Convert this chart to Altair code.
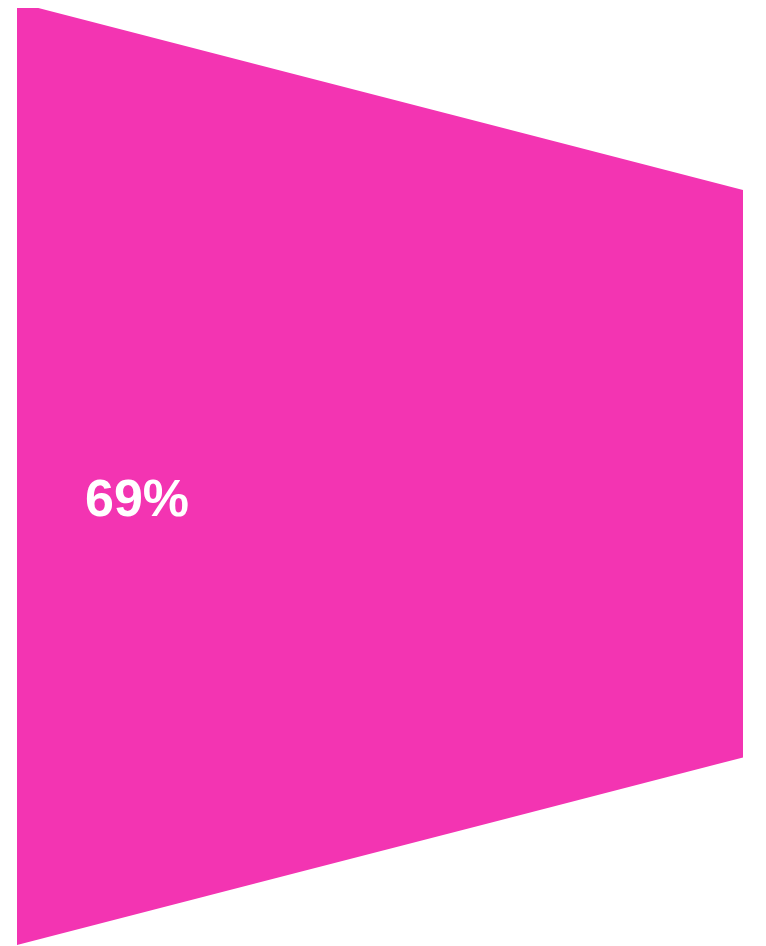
import altair as alt
import pandas as pd

stages = [0, 1]
values = [100, 60.2]
label_text = ["69%"]

df = pd.DataFrame({"stage": stages, "value": values})
df["lo"] = -df["value"] / 2
df["hi"] = df["value"] / 2

color = "#f334b2"

area = alt.Chart(df).mark_area(color=color, opacity=1, line=False).encode(
    x=alt.X("stage:Q", scale=alt.Scale(domain=[0, 1], nice=False, zero=False), axis=None),
    y=alt.Y("lo:Q", scale=alt.Scale(domain=[-50, 50], nice=False, zero=False), axis=None),
    y2="hi:Q",
)

text = alt.Chart(pd.DataFrame({"label": label_text})).mark_text(
    align="left", baseline="alphabetic", font="Liberation Sans", fontWeight="bold",
    fontSize=52, color="white"
).encode(
    x=alt.value(68),
    y=alt.value(513),
    text="label:N",
)

chart = (area + text).properties(
    width=726, height=942.5,
    padding={"left": 9, "top": -5.5, "right": 0, "bottom": 0},
    autosize=alt.AutoSizeParams(type="none"),
).configure_view(stroke=None).configure(background="white")

chart.save("out.html", embed_options={"renderer": "svg", "actions": False})
